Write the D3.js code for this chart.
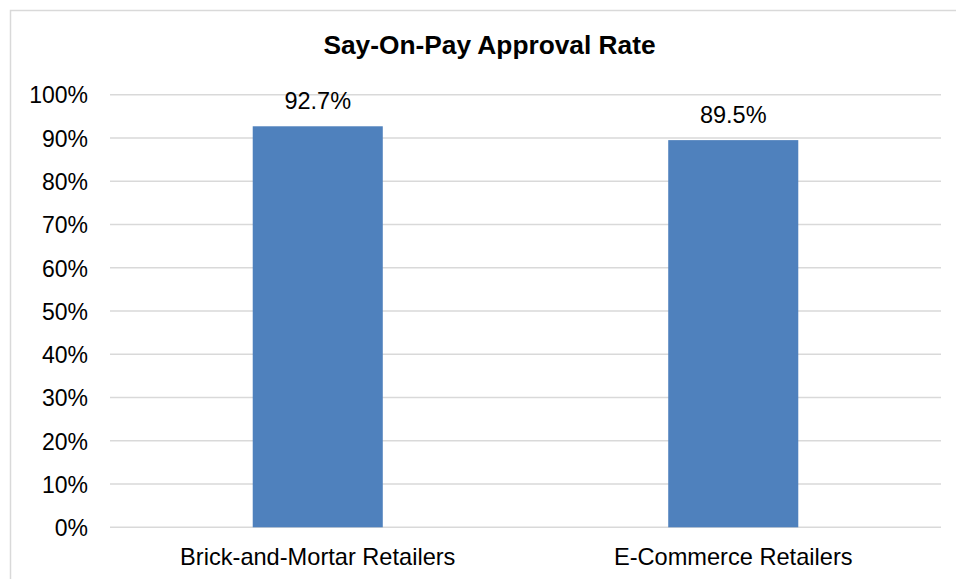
<!DOCTYPE html>
<html>
<head>
<meta charset="utf-8">
<script src="https://cdn.jsdelivr.net/npm/d3@7"></script>
<style>
  html, body { margin: 0; padding: 0; background: #fff; }
  svg { display: block; font-family: Arial, "Liberation Sans", sans-serif; }
</style>
</head>
<body>
<svg id="chart" width="956" height="579"></svg>
<script>
// Say-on-pay approval rates by retailer type
const categories = ["Brick-and-Mortar Retailers", "E-Commerce Retailers"];
const approvalRates = [92.7, 89.5];
const yTicks = [0, 10, 20, 30, 40, 50, 60, 70, 80, 90, 100];
const chartTitle = "Say-On-Pay Approval Rate";

const svg = d3.select("#chart");
const W = 956, H = 579;
const plot = { left: 110, right: 941, top: 94.7, bottom: 527.3 };

// outer chart frame
svg.append("rect")
  .attr("x", 10.5).attr("y", 10.5)
  .attr("width", W).attr("height", H)
  .attr("fill", "#fff")
  .attr("stroke", "#d9d9d9").attr("stroke-width", 1.5);

const x = d3.scaleBand().domain(categories).range([plot.left, plot.right]).padding(0);
const y = d3.scaleLinear().domain([0, 100]).range([plot.bottom, plot.top]);
const barWidth = x.bandwidth() * 0.313;

// gridlines
svg.append("g").selectAll("line")
  .data(yTicks).join("line")
  .attr("x1", plot.left).attr("x2", plot.right)
  .attr("y1", d => y(d)).attr("y2", d => y(d))
  .attr("stroke", "#d9d9d9").attr("stroke-width", 1.5);

// y-axis labels
const yAxis = d3.axisLeft(y).tickValues(yTicks).tickFormat(d => d + "%").tickSize(0).tickPadding(0);
const yG = svg.append("g").attr("transform", `translate(${plot.left - 22},0)`).call(yAxis);
yG.select(".domain").remove();
yG.selectAll("text")
  .attr("font-size", 23).attr("fill", "#000")
  .attr("font-family", "Arial, 'Liberation Sans', sans-serif")
  .attr("dy", "0.36em");

// bars
svg.append("g").selectAll("rect")
  .data(approvalRates).join("rect")
  .attr("x", (d, i) => x(categories[i]) + x.bandwidth() / 2 - barWidth / 2)
  .attr("y", d => y(d))
  .attr("width", barWidth)
  .attr("height", d => y(0) - y(d))
  .attr("fill", "#4F81BD");

// value labels
svg.append("g").selectAll("text")
  .data(approvalRates).join("text")
  .attr("x", (d, i) => x(categories[i]) + x.bandwidth() / 2)
  .attr("y", d => y(d) - 17)
  .attr("text-anchor", "middle")
  .attr("font-size", 23.5).attr("fill", "#000")
  .text(d => d.toFixed(1) + "%");

// category labels
const xAxis = d3.axisBottom(x).tickSize(0).tickPadding(0);
const xG = svg.append("g").attr("transform", `translate(0,${plot.bottom})`).call(xAxis);
xG.select(".domain").remove();
xG.selectAll("text")
  .attr("font-size", 23.6).attr("fill", "#000")
  .attr("font-family", "Arial, 'Liberation Sans', sans-serif")
  .attr("dy", null)
  .attr("y", 38);

// title
svg.append("text")
  .attr("x", 489.5).attr("y", 54)
  .attr("text-anchor", "middle")
  .attr("font-size", 26.3).attr("font-weight", "bold").attr("fill", "#000")
  .text(chartTitle);
</script>
</body>
</html>
